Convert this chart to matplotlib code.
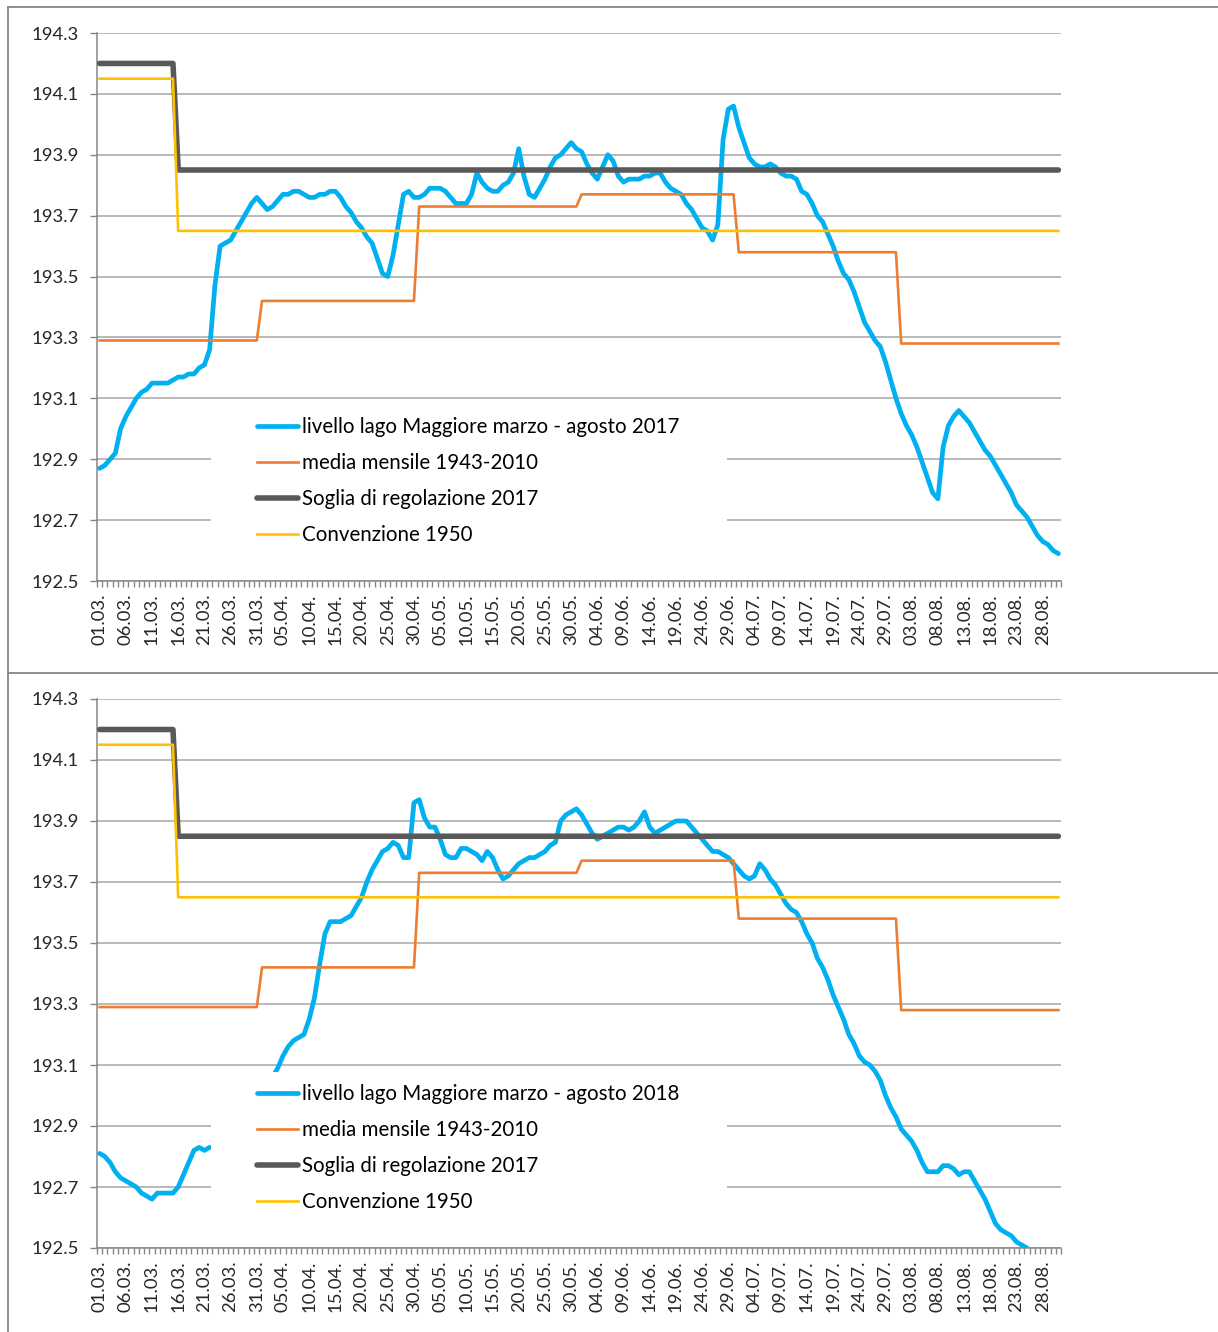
import numpy as np
import pandas as pd
import matplotlib
matplotlib.use("Agg")
import matplotlib.pyplot as plt
from matplotlib.lines import Line2D
from matplotlib.patches import Rectangle

plt.rcParams['font.family'] = ['Lato', 'DejaVu Sans']

# categorie: un giorno dal 01.03 al 31.08
giorni = pd.date_range('2017-03-01', '2017-08-31', freq='D')
etichette = list(giorni.strftime('%d.%m.'))

# livello lago Maggiore, 2017 (m s.l.m.)
livello_2017 = [
    192.87, 192.88, 192.90, 192.92, 193.00, 193.04, 193.07, 193.10, 193.12, 193.13,
    193.15, 193.15, 193.15, 193.15, 193.16, 193.17, 193.17, 193.18, 193.18, 193.20,
    193.21, 193.26, 193.47, 193.60, 193.61, 193.62, 193.65, 193.68, 193.71, 193.74,
    193.76, 193.74, 193.72, 193.73, 193.75, 193.77, 193.77, 193.78, 193.78, 193.77,
    193.76, 193.76, 193.77, 193.77, 193.78, 193.78, 193.76, 193.73, 193.71, 193.68,
    193.66, 193.63, 193.61, 193.56, 193.51, 193.50, 193.57, 193.67, 193.77, 193.78,
    193.76, 193.76, 193.77, 193.79, 193.79, 193.79, 193.78, 193.76, 193.74, 193.74,
    193.74, 193.77, 193.84, 193.81, 193.79, 193.78, 193.78, 193.80, 193.81, 193.84,
    193.92, 193.83, 193.77, 193.76, 193.79, 193.82, 193.86, 193.89, 193.90, 193.92,
    193.94, 193.92, 193.91, 193.87, 193.84, 193.82, 193.86, 193.90, 193.88, 193.83,
    193.81, 193.82, 193.82, 193.82, 193.83, 193.83, 193.84, 193.84, 193.81, 193.79,
    193.78, 193.77, 193.74, 193.72, 193.69, 193.66, 193.65, 193.62, 193.67, 193.95,
    194.05, 194.06, 193.99, 193.94, 193.89, 193.87, 193.86, 193.86, 193.87, 193.86,
    193.84, 193.83, 193.83, 193.82, 193.78, 193.77, 193.74, 193.70, 193.68, 193.64,
    193.60, 193.55, 193.51, 193.49, 193.45, 193.40, 193.35, 193.32, 193.29, 193.27,
    193.22, 193.16, 193.10, 193.05, 193.01, 192.98, 192.94, 192.89, 192.84, 192.79,
    192.77, 192.94, 193.01, 193.04, 193.06, 193.04, 193.02, 192.99, 192.96, 192.93,
    192.91, 192.88, 192.85, 192.82, 192.79, 192.75, 192.73, 192.71, 192.68, 192.65,
    192.63, 192.62, 192.60, 192.59,
]

# livello lago Maggiore, 2018 (nan = non leggibile: sotto la legenda o sotto l'asse)
nan = np.nan
livello_2018 = [
    192.81, 192.80, 192.78, 192.75, 192.73, 192.72, 192.71, 192.70, 192.68, 192.67,
    192.66, 192.68, 192.68, 192.68, 192.68, 192.70, 192.74, 192.78, 192.82, 192.83,
    192.82, 192.83, nan, nan, nan, nan, nan, nan, nan, nan,
    nan, nan, nan, 193.06, 193.09, 193.13, 193.16, 193.18, 193.19, 193.20,
    193.25, 193.32, 193.43, 193.53, 193.57, 193.57, 193.57, 193.58, 193.59, 193.62,
    193.65, 193.70, 193.74, 193.77, 193.80, 193.81, 193.83, 193.82, 193.78, 193.78,
    193.96, 193.97, 193.91, 193.88, 193.88, 193.84, 193.79, 193.78, 193.78, 193.81,
    193.81, 193.80, 193.79, 193.77, 193.80, 193.78, 193.74, 193.71, 193.72, 193.74,
    193.76, 193.77, 193.78, 193.78, 193.79, 193.80, 193.82, 193.83, 193.90, 193.92,
    193.93, 193.94, 193.92, 193.89, 193.86, 193.84, 193.85, 193.86, 193.87, 193.88,
    193.88, 193.87, 193.88, 193.90, 193.93, 193.88, 193.86, 193.87, 193.88, 193.89,
    193.90, 193.90, 193.90, 193.88, 193.86, 193.84, 193.82, 193.80, 193.80, 193.79,
    193.78, 193.76, 193.74, 193.72, 193.71, 193.72, 193.76, 193.74, 193.71, 193.69,
    193.66, 193.63, 193.61, 193.60, 193.57, 193.53, 193.50, 193.45, 193.42, 193.38,
    193.33, 193.29, 193.25, 193.20, 193.17, 193.13, 193.11, 193.10, 193.08, 193.05,
    193.00, 192.96, 192.93, 192.89, 192.87, 192.85, 192.82, 192.78, 192.75, 192.75,
    192.75, 192.77, 192.77, 192.76, 192.74, 192.75, 192.75, 192.72, 192.69, 192.66,
    192.62, 192.58, 192.56, 192.55, 192.54, 192.52, 192.51, 192.50, nan, nan,
    nan, nan, nan, nan,
]

# media mensile 1943-2010, marzo..agosto
mesi = [3, 4, 5, 6, 7, 8]
media_mensile = [193.29, 193.42, 193.73, 193.77, 193.58, 193.28]

# soglie: primo valore fino al 15.03, secondo dal 16.03
cambio = pd.Timestamp('2017-03-16')
soglia_2017 = [194.20, 193.85]
convenzione_1950 = [194.15, 193.65]

titoli = ['livello lago Maggiore marzo - agosto 2017',
          'livello lago Maggiore marzo - agosto 2018']
yticks = [192.5, 192.7, 192.9, 193.1, 193.3, 193.5, 193.7, 193.9, 194.1, 194.3]

assert len(livello_2017) == len(giorni) and len(livello_2018) == len(giorni)

x = np.arange(len(giorni))
media_giorno = [media_mensile[mesi.index(d.month)] for d in giorni]
soglia = np.where(giorni < cambio, soglia_2017[0], soglia_2017[1])
conv = np.where(giorni < cambio, convenzione_1950[0], convenzione_1950[1])

W, H = 1218, 1332
fig = plt.figure(figsize=(W / 100, H / 100), dpi=100)

def pannello(rect, livello, titolo):
    ax = fig.add_axes(rect)
    ax.plot(x, livello, color='#00B0F0', lw=3.4, solid_capstyle='round',
            solid_joinstyle='round', label=titolo, zorder=3)
    ax.plot(x, media_giorno, color='#ED7D31', lw=1.9, label='media mensile 1943-2010', zorder=3)
    ax.plot(x, soglia, color='#595959', lw=4.0, solid_capstyle='round',
            label='Soglia di regolazione 2017', zorder=3)
    ax.plot(x, conv, color='#FFC000', lw=1.9, label='Convenzione 1950', zorder=3)

    ax.set_xlim(-0.5, len(x) - 0.5)
    ax.set_ylim(192.5, 194.3)
    ax.set_yticks(yticks)
    ax.set_yticklabels([f'{v:.1f}' for v in yticks])
    ax.set_xticks(x[::5])
    ax.set_xticklabels(etichette[::5], rotation=90)
    ax.set_xticks(np.arange(-0.5, len(x)), minor=True)
    ax.tick_params(axis='x', which='major', length=0, pad=9, labelsize=13.3, labelcolor='#262626')
    ax.tick_params(axis='x', which='minor', length=4, color='#868686', width=1)
    ax.tick_params(axis='y', length=5, color='#868686', width=1, pad=8, labelsize=13.3,
                   labelcolor='#262626')
    ax.grid(axis='y', color='#a6a6a6', lw=1.1)
    ax.set_axisbelow(True)
    for s in ['top', 'right']:
        ax.spines[s].set_visible(False)
    for s in ['left', 'bottom']:
        ax.spines[s].set_color('#868686')
        ax.spines[s].set_linewidth(1.1)

    # sfondo bianco della legenda
    ax.add_patch(Rectangle((0.1183, 0.038), 0.5352, 0.283, transform=ax.transAxes,
                           facecolor='white', edgecolor='none', zorder=5))
    leg = ax.legend(loc='center left', bbox_to_anchor=(0.166, 0.1825), frameon=False,
                    fontsize=14.8, handlelength=2.0, handletextpad=0.2, labelspacing=0.78,
                    borderpad=0, borderaxespad=0)
    leg.set_zorder(6)
    return ax

pannello([97 / W, 1 - 581 / H, 964 / W, 548 / H], livello_2017, titoli[0])
pannello([97 / W, 1 - 1248 / H, 964 / W, 549 / H], livello_2018, titoli[1])

# cornici dei due grafici
bordo = dict(transform=fig.transFigure, color='#868686', lw=1.3)
fig.add_artist(Line2D([8 / W, 1], [1 - 7 / H, 1 - 7 / H], **bordo))
fig.add_artist(Line2D([8 / W, 1], [1 - 672.5 / H, 1 - 672.5 / H], **bordo))
fig.add_artist(Line2D([8 / W, 8 / W], [0, 1 - 7 / H], **bordo))

fig.savefig('out.png', dpi=100, facecolor='white')
